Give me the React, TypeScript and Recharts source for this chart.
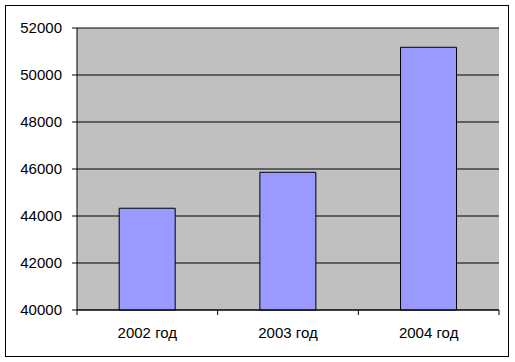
import { BarChart, Bar, XAxis, YAxis, CartesianGrid } from 'recharts';

const YEARS = ['2002 год', '2003 год', '2004 год'];
const VALUES = [44330, 45860, 51180];
const Y_TICKS = [40000, 42000, 44000, 46000, 48000, 50000, 52000];

const data = YEARS.map((name, i) => ({ name, value: VALUES[i] }));

const W = 515;
const H = 362;
const M = { top: 28, right: 16, bottom: 0, left: 0 };
const Y_W = 77;
const TICK = 5;
const GAP = 12;
const BAND = (W - M.left - M.right - Y_W) / YEARS.length;

const font = '"Liberation Sans", Arial, sans-serif';
const tickFont = { fontSize: 15, fill: '#000', fontFamily: font };

function CatTick(props: any) {
  const { x, y, payload, index } = props;
  const axisY = y - TICK - GAP;
  const left = x - BAND / 2;
  const right = x + BAND / 2;
  return (
    <g>
      <line x1={left} x2={left} y1={axisY} y2={axisY + TICK} stroke="#000" />
      {index === YEARS.length - 1 && <line x1={right} x2={right} y1={axisY} y2={axisY + TICK} stroke="#000" />}
      <text x={x} y={y} dy="0.71em" textAnchor="middle" fontSize={15} fontFamily={font} fill="#000">
        {payload.value}
      </text>
    </g>
  );
}

export default function App() {
  return (
    <div style={{ position: 'absolute', left: 0, top: 0, width: W, height: H, background: '#fff' }}>
      <div
        style={{
          position: 'absolute',
          left: 5,
          top: 5,
          width: 504,
          height: 352,
          border: '1px solid #000',
          boxSizing: 'border-box',
        }}
      />
      <div style={{ position: 'absolute', left: 0, top: 0 }}>
        <BarChart width={W} height={H} data={data} margin={M} barCategoryGap="30%">
          <CartesianGrid vertical={false} stroke="#000" fill="#C0C0C0" />
          <XAxis
            dataKey="name"
            height={52}
            tick={<CatTick />}
            tickLine={false}
            tickSize={TICK}
            tickMargin={GAP}
            axisLine={{ stroke: '#000' }}
            interval={0}
          />
          <XAxis xAxisId="top" orientation="top" height={0} tick={false} axisLine={{ stroke: '#808080' }} />
          <YAxis
            domain={[40000, 52000]}
            ticks={Y_TICKS}
            width={Y_W}
            tick={tickFont}
            tickSize={TICK}
            tickMargin={10}
            tickLine={{ stroke: '#000' }}
            axisLine={{ stroke: '#000' }}
            interval={0}
          />
          <YAxis yAxisId="right" orientation="right" width={0} tick={false} axisLine={{ stroke: '#808080' }} />
          <Bar dataKey="value" fill="#9999FF" stroke="#000" strokeWidth={1} isAnimationActive={false} />
        </BarChart>
      </div>
    </div>
  );
}
